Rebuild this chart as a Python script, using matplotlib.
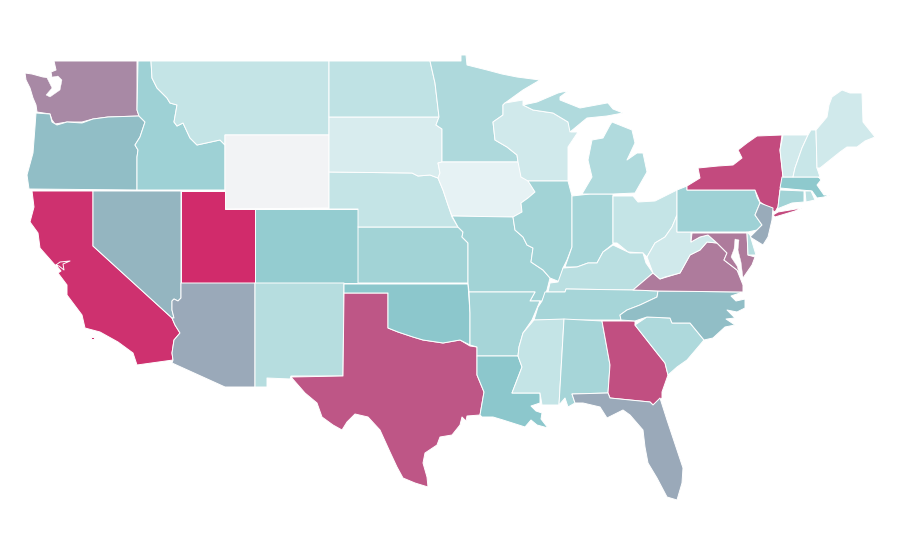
import matplotlib
matplotlib.use("Agg")
import matplotlib.pyplot as plt
from matplotlib.colors import LinearSegmentedColormap, Normalize
from matplotlib.patches import Polygon

# Choropleth value per state
STATES = ["WA","OR","CA","NV","ID","MT","WY","UT","CO","AZ","NM","TX","OK","KS","NE","SD","ND","MN",
          "IA","MO","AR","LA","WI","IL","IN","MI","OH","KY","TN","MS","AL","GA","FL","SC","NC","VA",
          "WV","PA","NY","NJ","MD","DE","CT","MA","RI","VT","NH","ME"]
VALUES = [70,53.5,98,56,41,22,0,100,46,60,29,86,50,39,22,12,24.5,33,
          5,39,37,50,16,39,37,32,22,27,37,22,37,88.5,60,33,53.5,74.5,
          16,41,90,59,74.5,29,39,49,26,15,20,16]
SCALE_STOPS = [0, 5, 22, 50, 100]
SCALE_COLOURS = ["#F2F3F5", "#E5F2F4", "#C4E4E6", "#8CC8CC", "#D12B6B"]

# State outlines, in map units
SHAPES = {
 "WA": [[(137,61),(137,110),(139,116),(108,117),(93,119),(82,122),(67,122),(55,124),(52,120),(50,114),(37,112),(36,105),(33,98),(30,88),(26,80),(25,73),(32,74),(43,77),(52,78),(51,72),(56,70),(54,61)]],
 "OR": [[(36,113),(50,114),(52,122),(57,125),(67,122),(82,123),(93,119),(108,117),(139,116),(145,122),(143,128),(140,137),(135,145),(138,150),(137,157),(137,190),(29,189),(27,175),(33,153),(35,127)]],
 "CA": [[(32,191),(93,191),(93,246),(172,318),(175,325),(180,333),(174,340),(172,353),(173,360),(137,365),(133,353),(118,342),(100,332),(85,328),(82,315),(67,295),(67,285),(58,273),(61,271),(56,265),(60,262),(70,261),(63,264),(64,270),(59,266),(55,265),(40,248),(38,233),(30,222),(34,207)],
        [(91,337),(94,337),(94,339),(91,339)]],
 "NV": [[(93,191),(181,191),(181,298),(178,301),(174,299),(172,301),(172,310),(174,318),(172,318),(93,246)]],
 "ID": [[(138,61),(151,61),(152,78),(157,88),(167,98),(170,103),(177,105),(174,122),(177,126),(183,123),(190,138),(197,145),(220,140),(225,145),(225,190),(137,190),(137,157),(138,150),(135,145),(140,137),(143,128),(145,122),(139,116),(137,110)]],
 "MT": [[(151,61),(329,61),(329,135),(225,135),(225,145),(220,140),(197,145),(190,138),(183,123),(177,126),(174,122),(177,105),(170,103),(167,98),(157,88),(152,78)]],
 "WY": [[(225,135),(329,135),(329,208),(225,209)]],
 "UT": [[(181,191),(225,191),(225,209),(255,209),(255,283),(181,283)]],
 "CO": [[(255,209),(358,209),(358,283),(255,283)]],
 "AZ": [[(181,283),(255,283),(255,387),(225,387),(172,363),(173,360),(172,353),(174,340),(180,333),(175,325),(172,318),(174,318),(172,310),(172,301),(174,299),(178,301),(181,298)]],
 "NM": [[(255,283),(344,283),(343,376),(291,376),(290,379),(267,378),(267,387),(255,387)]],
 "TX": [[(344,293),(388,293),(388,328),(398,332),(413,337),(423,340),(443,343),(460,340),(470,346),(477,347),(477,375),(484,392),(480,415),(467,416),(466,421),(462,417),(460,425),(452,435),(440,437),(437,445),(425,453),(423,463),(427,477),(428,487),(415,483),(403,478),(397,467),(390,452),(380,430),(368,417),(355,414),(347,422),(342,430),(333,425),(322,417),(317,403),(305,393),(291,377),(343,376)]],
 "OK": [[(344,284),(468,284),(470,313),(470,345),(460,340),(443,343),(423,340),(413,337),(398,332),(388,328),(388,293),(344,293)]],
 "KS": [[(358,227),(458,227),(463,232),(462,237),(468,243),(468,283),(358,283)]],
 "NE": [[(329,172),(412,173),(418,176),(430,175),(438,178),(443,190),(448,205),(452,217),(458,227),(358,227),(358,209),(329,209)]],
 "SD": [[(329,117),(439,117),(436,125),(442,129),(442,162),(438,163),(440,173),(438,178),(430,175),(418,176),(412,173),(329,172)]],
 "ND": [[(329,61),(430,61),(435,83),(437,100),(439,117),(329,117)]],
 "MN": [[(430,61),(461,61),(461,55),(466,55),(467,65),(487,70),(502,74),(517,77),(540,80),(523,90),(505,103),(503,105),(503,115),(493,122),(495,140),(507,147),(517,155),(518,162),(442,162),(442,129),(436,125),(439,117),(437,100),(435,83)]],
 "IA": [[(442,162),(518,162),(520,167),(521,177),(528,180),(535,192),(528,198),(521,203),(522,212),(513,217),(452,216),(448,205),(443,190),(438,178),(440,173),(438,163)]],
 "MO": [[(452,216),(513,217),(515,230),(523,237),(527,245),(533,248),(531,262),(543,270),(550,278),(547,290),(542,301),(530,301),(535,292),(469,292),(468,283),(468,243),(462,237),(463,232),(458,227)]],
 "AR": [[(469,292),(535,292),(530,301),(540,301),(535,313),(532,320),(523,333),(519,347),(518,356),(477,356),(477,347),(470,345),(470,313)]],
 "LA": [[(477,356),(518,356),(522,367),(512,393),(540,393),(540,403),(531,406),(536,411),(542,413),(541,419),(548,428),(537,425),(531,420),(525,427),(503,420),(493,417),(482,417),(480,415),(484,392),(477,375)]],
 "WI": [[(503,105),(505,103),(523,100),(523,105),(533,110),(553,113),(568,122),(571,132),(578,132),(568,147),(568,181),(528,181),(521,177),(518,162),(517,155),(507,147),(495,140),(493,122),(503,115)]],
 "IL": [[(528,181),(568,181),(572,196),(572,247),(567,260),(563,268),(560,282),(550,278),(543,270),(531,262),(533,248),(527,245),(523,237),(515,230),(513,217),(522,212),(521,203),(528,198),(535,192)]],
 "IN": [[(572,196),(590,194),(613,194),(613,244),(603,252),(597,263),(588,263),(577,267),(565,267),(572,247)]],
 "MI": [[(582,194),(592,177),(588,160),(592,140),(603,138),(610,125),(612,122),(632,130),(635,143),(627,160),(637,153),(643,153),(647,172),(635,193),(613,194)],
        [(523,105),(537,102),(558,93),(562,92),(568,91),(560,97),(560,100),(580,108),(607,103),(608,103),(613,109),(623,113),(607,116),(587,118),(570,132),(568,122),(553,113),(533,110)]],
 "OH": [[(613,196),(633,196),(638,202),(655,201),(677,190),(677,215),(672,227),(665,237),(655,243),(647,257),(643,253),(628,252),(617,243),(613,243)]],
 "KY": [[(548,292),(550,283),(558,282),(563,268),(577,267),(588,263),(597,263),(603,252),(613,245),(630,253),(643,253),(646,263),(653,273),(633,290),(566,289),(565,292)]],
 "TN": [[(545,292),(565,292),(566,289),(632,290),(658,291),(657,297),(640,305),(627,310),(620,315),(621,320),(534,320),(538,307),(542,301)]],
 "MS": [[(534,320),(564,319),(559,405),(542,405),(540,393),(512,393),(522,367),(518,356),(519,347),(523,333)]],
 "AL": [[(564,319),(602,321),(610,365),(608,393),(572,394),(575,403),(568,407),(565,398),(559,405)]],
 "GA": [[(602,321),(635,321),(635,325),(657,353),(665,363),(668,375),(662,392),(662,398),(653,405),(650,402),(610,398),(608,393),(610,365)]],
 "FL": [[(572,394),(608,393),(610,398),(650,402),(653,405),(660,398),(667,420),(677,450),(683,468),(682,483),(677,500),(667,497),(657,478),(648,463),(645,447),(643,430),(630,415),(623,410),(607,418),(600,407),(583,403),(575,403)]],
 "SC": [[(635,325),(647,317),(670,318),(672,323),(690,323),(704,340),(693,353),(687,360),(677,367),(668,375),(665,363),(657,353)]],
 "NC": [[(621,320),(620,315),(627,310),(640,305),(657,297),(658,291),(743,292),(731,296),(736,301),(745,299),(745,308),(737,312),(727,310),(735,318),(726,319),(735,325),(725,327),(713,338),(704,340),(690,323),(672,323),(670,318),(647,317),(635,321)]],
 "VA": [[(633,290),(653,273),(660,279),(680,273),(690,255),(700,250),(707,242),(717,243),(727,253),(724,260),(737,270),(743,285),(743,292),(658,291)]],
 "WV": [[(677,215),(677,232),(691,232),(691,242),(700,237),(708,235),(717,243),(707,242),(700,250),(690,255),(680,273),(665,277),(660,279),(653,273),(647,257),(655,243),(665,237),(672,227)]],
 "PA": [[(677,190),(687,186),(687,190),(755,190),(757,197),(760,203),(755,215),(762,225),(757,230),(748,232),(677,232)]],
 "NY": [[(687,186),(700,178),(698,168),(718,166),(733,165),(742,158),(738,150),(747,143),(757,136),(782,135),(780,150),(783,177),(780,190),(778,207),(775,212),(760,202),(755,190),(687,190)],
        [(773,215),(778,212),(790,210),(802,208),(795,211),(785,214),(775,217)]],
 "NJ": [[(760,203),(773,208),(772,220),(768,237),(763,245),(750,237),(757,230),(762,225),(755,215)]],
 "MD": [[(692,233),(747,233),(748,255),(755,257),(752,265),(743,278),(737,270),(724,260),(727,253),(717,243),(708,235),(700,237),(691,242)]],
 "DE": [[(747,232),(750,235),(756,255),(748,255)]],
 "CT": [[(780,190),(804,191),(804,202),(792,203),(777,209),(778,207)]],
 "MA": [[(782,177),(820,177),(817,175),(821,180),(817,185),(824,195),(830,195),(824,197),(817,198),(812,191),(780,188)]],
 "RI": [[(805,191),(811,191),(815,200),(806,202)]],
 "VT": [[(783,135),(808,135),(802,148),(795,168),(793,177),(783,177),(780,150)]],
 "NH": [[(808,135),(811,130),(816,130),(817,168),(820,177),(793,177),(795,168),(802,148)]],
 "ME": [[(816,130),(827,117),(829,105),(832,97),(842,90),(850,93),(862,93),(863,122),(875,137),(865,141),(857,147),(847,147),(840,152),(830,160),(820,168),(817,168)]],
}
# Water cut into the land: Puget Sound and Chesapeake Bay
WATER = [
 [(47,78),(58,76),(62,80),(60,90),(50,97),(46,95),(52,88)],
 [(735,239),(739,240),(738,250),(741,262),(743,278),(741,279),(737,266),(731,257),(734,249)],
]

cmap = LinearSegmentedColormap.from_list(
    "scale", [(s / SCALE_STOPS[-1], c) for s, c in zip(SCALE_STOPS, SCALE_COLOURS)])
norm = Normalize(0, 100)

fig = plt.figure(figsize=(9, 5.6), dpi=100, facecolor="white")
ax = fig.add_axes([0, 0, 1, 1])
ax.set_xlim(0, 900)
ax.set_ylim(560, 0)
ax.axis("off")
for state, value in zip(STATES, VALUES):
    for ring in SHAPES[state]:
        ax.add_patch(Polygon(ring, closed=True, facecolor=cmap(norm(value)),
                             edgecolor="white", linewidth=0.7, joinstyle="round"))
for ring in WATER:
    ax.add_patch(Polygon(ring, closed=True, facecolor="white", edgecolor="white", linewidth=0.3))
fig.savefig("out.png", dpi=100)
